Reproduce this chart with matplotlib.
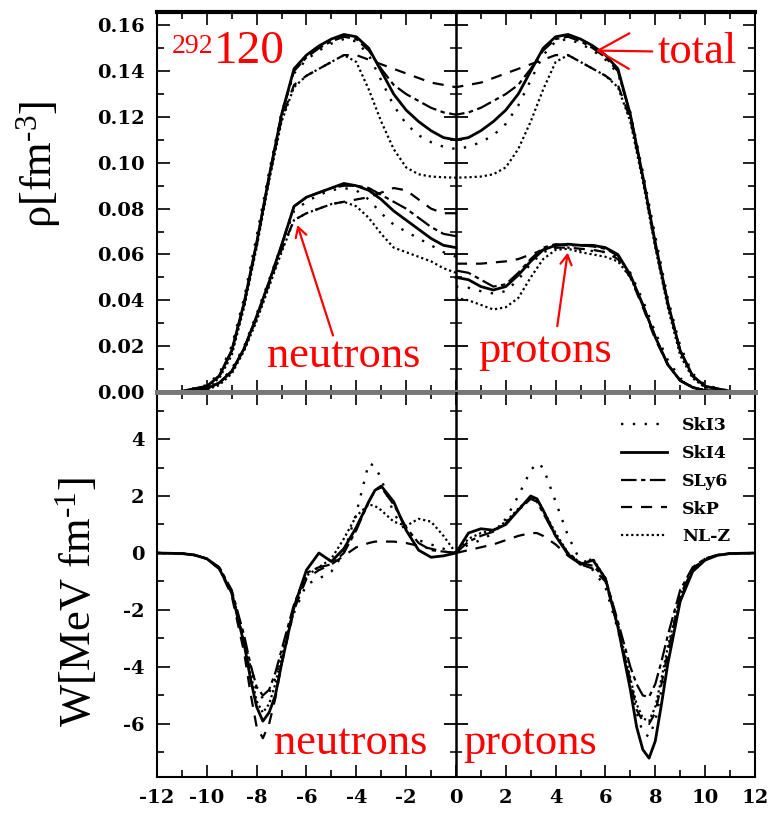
"""
Densities and spin-orbit potentials of 292-120 for five interactions.
"""
import matplotlib
matplotlib.use("Agg")
import matplotlib.pyplot as plt
import numpy as np

plt.rcParams['axes.unicode_minus'] = False
plt.rcParams['mathtext.fontset'] = 'custom'
plt.rcParams['mathtext.rm'] = 'Liberation Serif'
plt.rcParams['mathtext.it'] = 'Liberation Serif:italic'

MODELS = ['SkI3', 'SkI4', 'SLy6', 'SkP', 'NL-Z']

# radial grid (fm) for densities
R_RHO = [0, 0.5, 1, 1.5, 2, 2.5, 3, 3.5, 4, 4.5, 5, 5.5, 6, 6.5, 7, 7.5,
         8, 8.5, 9, 9.5, 10, 11, 12]

# total densities [fm^-3]
RHO_TOT = {
    'SkI3': [0.106, 0.107, 0.109, 0.112, 0.117, 0.125, 0.136, 0.147, 0.153,
             0.154, 0.152, 0.149, 0.145, 0.139, 0.122, 0.096, 0.068, 0.041,
             0.020, 0.008, 0.003, 0.0004, 0.0],
    'SkI4': [0.110, 0.111, 0.114, 0.118, 0.123, 0.130, 0.140, 0.150, 0.155,
             0.156, 0.154, 0.151, 0.147, 0.141, 0.121, 0.094, 0.065, 0.039,
             0.018, 0.007, 0.0025, 0.0003, 0.0],
    'SLy6': [0.121, 0.122, 0.124, 0.127, 0.130, 0.134, 0.141, 0.149, 0.154,
             0.155, 0.153, 0.150, 0.146, 0.140, 0.121, 0.094, 0.065, 0.039,
             0.018, 0.007, 0.0025, 0.0003, 0.0],
    'SkP': [0.133, 0.134, 0.135, 0.137, 0.139, 0.141, 0.143, 0.145, 0.147,
            0.147, 0.144, 0.141, 0.138, 0.134, 0.119, 0.093, 0.064, 0.038,
            0.018, 0.007, 0.0025, 0.0003, 0.0],
    'NL-Z': [0.0935, 0.0937, 0.094, 0.095, 0.098, 0.106, 0.118, 0.132, 0.144,
             0.147, 0.144, 0.141, 0.138, 0.133, 0.118, 0.092, 0.063, 0.037,
             0.016, 0.006, 0.002, 0.0002, 0.0],
}

# neutron densities (drawn at negative x)
RHO_N = {
    'SkI3': [0.059, 0.061, 0.064, 0.067, 0.070, 0.073, 0.078, 0.084, 0.088,
             0.089, 0.088, 0.086, 0.083, 0.079, 0.064, 0.049, 0.034, 0.020,
             0.010, 0.004, 0.0015, 0.0002, 0.0],
    'SkI4': [0.063, 0.064, 0.067, 0.071, 0.075, 0.079, 0.084, 0.088, 0.090,
             0.091, 0.089, 0.087, 0.085, 0.081, 0.064, 0.048, 0.033, 0.019,
             0.009, 0.004, 0.0015, 0.0002, 0.0],
    'SLy6': [0.068, 0.069, 0.072, 0.076, 0.080, 0.083, 0.086, 0.089, 0.090,
             0.090, 0.089, 0.087, 0.085, 0.081, 0.064, 0.048, 0.033, 0.019,
             0.009, 0.004, 0.0015, 0.0002, 0.0],
    'SkP': [0.078, 0.078, 0.080, 0.084, 0.088, 0.089, 0.087, 0.085, 0.084,
            0.083, 0.082, 0.080, 0.078, 0.075, 0.062, 0.047, 0.032, 0.019,
            0.009, 0.004, 0.0015, 0.0002, 0.0],
    'NL-Z': [0.052, 0.054, 0.057, 0.059, 0.061, 0.063, 0.069, 0.076, 0.081,
             0.083, 0.082, 0.080, 0.078, 0.075, 0.061, 0.046, 0.031, 0.018,
             0.008, 0.003, 0.001, 0.0001, 0.0],
}

# proton densities (drawn at positive x)
RHO_P = {
    'SkI3': [0.046, 0.0455, 0.044, 0.043, 0.044, 0.049, 0.056, 0.061, 0.063,
             0.063, 0.062, 0.0615, 0.061, 0.059, 0.052, 0.040, 0.026, 0.014,
             0.006, 0.002, 0.0007, 0.0001, 0.0],
    'SkI4': [0.050, 0.049, 0.046, 0.0445, 0.046, 0.051, 0.057, 0.062, 0.064,
             0.0645, 0.064, 0.064, 0.063, 0.060, 0.051, 0.038, 0.024, 0.012,
             0.005, 0.002, 0.0006, 0.0001, 0.0],
    'SLy6': [0.053, 0.052, 0.049, 0.046, 0.047, 0.052, 0.058, 0.063, 0.0645,
             0.064, 0.064, 0.0635, 0.0625, 0.0595, 0.051, 0.038, 0.024, 0.012,
             0.005, 0.002, 0.0006, 0.0001, 0.0],
    'SkP': [0.056, 0.056, 0.056, 0.0565, 0.057, 0.058, 0.060, 0.062, 0.063,
            0.063, 0.0625, 0.062, 0.061, 0.058, 0.050, 0.037, 0.023, 0.012,
            0.005, 0.002, 0.0006, 0.0001, 0.0],
    'NL-Z': [0.041, 0.040, 0.038, 0.036, 0.037, 0.041, 0.050, 0.058, 0.062,
             0.0625, 0.061, 0.060, 0.059, 0.057, 0.050, 0.038, 0.024, 0.012,
             0.005, 0.002, 0.0006, 0.0001, 0.0],
}

# radial grid (fm) for spin-orbit potentials
R_W = [0, 0.5, 1, 1.5, 2, 2.5, 3, 3.25, 3.5, 4, 4.5, 5, 5.5, 6, 6.5, 7,
       7.25, 7.5, 7.75, 8, 8.25, 8.5, 9, 9.5, 10, 10.5, 11, 12]

# neutron spin-orbit potential [MeV fm^-1]
W_N = {
    'SkI3': [0.0, 0.15, 0.3, 0.45, 0.75, 1.4, 2.6, 3.05, 3.15, 1.4, 0.0,
             -0.65, -0.9, -1.1, -2.1, -3.6, -4.4, -4.9, -5.1, -4.8, -4.0,
             -3.0, -1.4, -0.55, -0.2, -0.07, -0.02, 0.0],
    'SkI4': [0.0, -0.1, -0.15, 0.1, 0.8, 1.8, 2.35, 2.2, 1.8, 0.9, 0.15,
             -0.3, 0.0, -0.6, -1.9, -3.9, -5.0, -5.6, -5.9, -5.4, -4.4,
             -3.2, -1.4, -0.55, -0.2, -0.07, -0.02, 0.0],
    'SLy6': [0.0, 0.05, 0.1, 0.35, 0.9, 1.7, 2.3, 2.2, 1.8, 0.8, 0.0,
             -0.4, -0.5, -0.7, -1.8, -3.4, -4.2, -4.8, -5.0, -4.7, -3.9,
             -2.9, -1.3, -0.5, -0.2, -0.07, -0.02, 0.0],
    'SkP': [0.0, 0.05, 0.15, 0.25, 0.35, 0.4, 0.4, 0.4, 0.35, 0.2, -0.1,
            -0.4, -0.6, -0.9, -2.0, -3.9, -5.1, -6.0, -6.5, -6.1, -4.9,
            -3.5, -1.5, -0.55, -0.2, -0.07, -0.02, 0.0],
    'NL-Z': [0.0, 0.6, 1.1, 1.2, 0.95, 1.1, 1.5, 1.65, 1.7, 1.3, 0.5,
             -0.2, -0.5, -0.8, -1.9, -3.6, -4.6, -5.3, -5.6, -5.2, -4.2,
             -3.1, -1.4, -0.5, -0.2, -0.07, -0.02, 0.0],
}

# proton spin-orbit potential [MeV fm^-1]
W_P = {
    'SkI3': [0.0, 0.3, 0.45, 0.7, 1.2, 2.0, 2.9, 3.15, 3.0, 1.8, 0.6,
             -0.3, -0.6, -1.2, -2.7, -4.6, -5.6, -6.3, -6.45, -5.9, -4.8,
             -3.6, -1.6, -0.6, -0.2, -0.07, -0.02, 0.0],
    'SkI4': [0.0, 0.7, 0.85, 0.8, 1.0, 1.5, 2.0, 1.9, 1.5, 0.6, -0.05,
             -0.4, -0.25, -0.9, -2.6, -4.8, -6.1, -6.9, -7.2, -6.6, -5.3,
             -3.9, -1.7, -0.65, -0.25, -0.08, -0.02, 0.0],
    'SLy6': [0.0, 0.4, 0.6, 0.75, 1.05, 1.5, 1.9, 1.8, 1.4, 0.6, 0.0,
             -0.35, -0.45, -0.9, -2.4, -4.0, -4.6, -5.0, -5.05, -4.6, -3.8,
             -2.9, -1.3, -0.5, -0.2, -0.07, -0.02, 0.0],
    'SkP': [0.0, 0.1, 0.2, 0.3, 0.45, 0.6, 0.7, 0.7, 0.6, 0.3, -0.1,
            -0.4, -0.55, -1.0, -2.6, -4.5, -5.5, -5.9, -6.0, -5.6, -4.6,
            -3.5, -1.5, -0.55, -0.2, -0.07, -0.02, 0.0],
    'NL-Z': [0.0, 0.5, 0.7, 0.8, 1.1, 1.55, 1.95, 1.9, 1.5, 0.7, 0.0,
             -0.35, -0.2, -0.9, -2.5, -4.4, -5.3, -5.8, -5.9, -5.4, -4.4,
             -3.3, -1.5, -0.55, -0.2, -0.07, -0.02, 0.0],
}

STYLES = {
    'SkI3': dict(ls=(0, (1, 4)), lw=1.7),
    'SkI4': dict(ls='-', lw=2.0),
    'SLy6': dict(ls=(0, (7, 2, 2, 2)), lw=1.6),
    'SkP': dict(ls=(0, (5, 4)), lw=1.6),
    'NL-Z': dict(ls=(0, (1, 1.3)), lw=1.6),
}

TICK_FONT = dict(family='DejaVu Serif', weight='bold', size=14)
BIG_FONT = 'Liberation Serif'


def center_ticks(axis, major, minor):
    """Draw the little crossing ticks on the x=0 line."""
    axis.plot(np.zeros(len(major)), major, ls='none', marker='_', ms=17,
              mew=1.3, color='black', zorder=5)
    axis.plot(np.zeros(len(minor)), minor, ls='none', marker='_', ms=9,
              mew=1.1, color='black', zorder=5)


def style_axis(axis):
    axis.tick_params(which='both', direction='in', top=True, right=True,
                     width=1.2)
    axis.tick_params(which='major', length=9, pad=9)
    axis.tick_params(which='minor', length=5)
    axis.set_xlim(-12, 12)
    axis.set_xticks(np.arange(-12, 13, 2))
    axis.set_xticks(np.arange(-12, 13, 1), minor=True)
    axis.axvline(0, color='black', lw=1.8, zorder=4)
    for sp in axis.spines.values():
        sp.set_linewidth(1.5)
    for lab in axis.get_yticklabels() + axis.get_xticklabels():
        lab.set_fontfamily(TICK_FONT['family'])
        lab.set_fontweight(TICK_FONT['weight'])
        lab.set_fontsize(TICK_FONT['size'])


fig = plt.figure(figsize=(7.68, 8.17), dpi=100)
ax_top = fig.add_axes([0.2044, 0.5202, 0.7786, 0.4651])
ax_bot = fig.add_axes([0.2044, 0.0490, 0.7786, 0.4712])

r_rho = np.array(R_RHO)
r_w = np.array(R_W)
x_full = np.concatenate([-r_rho[::-1], r_rho[1:]])

# --- densities ---
for m in MODELS:
    tot = np.array(RHO_TOT[m])
    ax_top.plot(x_full, np.concatenate([tot[::-1], tot[1:]]), color='black',
                **STYLES[m])
    ax_top.plot(-r_rho, RHO_N[m], color='black', **STYLES[m])
    ax_top.plot(r_rho, RHO_P[m], color='black', **STYLES[m])

ax_top.set_ylim(0, 0.1658)
ax_top.set_yticks(np.arange(0, 0.161, 0.02))
ax_top.set_yticks(np.arange(0, 0.166, 0.01), minor=True)
ax_top.set_yticklabels(['%.2f' % v for v in np.arange(0, 0.161, 0.02)])
ax_top.tick_params(labelbottom=False)
style_axis(ax_top)
ax_top.spines['top'].set_linewidth(3)
ax_top.spines['bottom'].set_color('#777777')
ax_top.spines['bottom'].set_linewidth(3.5)
center_ticks(ax_top, np.arange(0.02, 0.161, 0.02), np.arange(0.01, 0.166, 0.02))
ax_top.set_ylabel(r'ρ[fm$^{\text{-3}}$]', family=BIG_FONT, fontsize=32)
ax_top.yaxis.set_label_coords(-0.157, 0.60)

# --- spin-orbit potentials ---
for m in MODELS:
    ax_bot.plot(-r_w, W_N[m], color='black', **STYLES[m])
    ax_bot.plot(r_w, W_P[m], color='black', label=m, **STYLES[m])

ax_bot.set_ylim(-7.86, 5.65)
ax_bot.set_yticks([-6, -4, -2, 0, 2, 4])
ax_bot.set_yticks(np.arange(-7, 6, 1), minor=True)
style_axis(ax_bot)
ax_bot.spines['top'].set_color('#777777')
ax_bot.spines['top'].set_linewidth(3.5)
center_ticks(ax_bot, [-6, -4, -2, 2, 4], [-7, -5, -3, -1, 1, 3, 5])
ax_bot.set_ylabel(r'W[MeV fm$^{\text{-1}}$]', family=BIG_FONT, fontsize=32)
ax_bot.yaxis.set_label_coords(-0.097, 0.455)

leg = ax_bot.legend(loc='upper right', bbox_to_anchor=(0.985, 0.975),
                    frameon=False, handlelength=2.6, handletextpad=0.9,
                    labelspacing=0.62,
                    prop=dict(family='DejaVu Serif', weight='bold', size=12.5))

# --- red annotations ---
red = '#ff0000'
arrow = dict(arrowstyle='->,head_length=0.7,head_width=0.4', color=red, lw=1.6)
ax_top.text(-11.4, 0.1478, '292', color=red, family=BIG_FONT, fontsize=20)
ax_top.text(-9.7, 0.1434, '120', color=red, family=BIG_FONT, fontsize=34)
ax_top.annotate('total', xy=(5.5, 0.149), xytext=(8.1, 0.1435), color=red,
                family=BIG_FONT, fontsize=32, arrowprops=arrow,
                va='baseline')
ax_top.annotate('', xy=(-6.4, 0.074), xytext=(-4.9, 0.0235), arrowprops=arrow)
ax_top.text(-7.6, 0.011, 'neutrons', color=red, family=BIG_FONT, fontsize=32)
ax_top.annotate('', xy=(4.5, 0.062), xytext=(4.05, 0.0275), arrowprops=arrow)
ax_top.text(0.9, 0.013, 'protons', color=red, family=BIG_FONT, fontsize=32)
ax_bot.text(-7.3, -7.05, 'neutrons', color=red, family=BIG_FONT, fontsize=32)
ax_bot.text(0.3, -7.05, 'protons', color=red, family=BIG_FONT, fontsize=32)

fig.savefig('out.png', dpi=100)
